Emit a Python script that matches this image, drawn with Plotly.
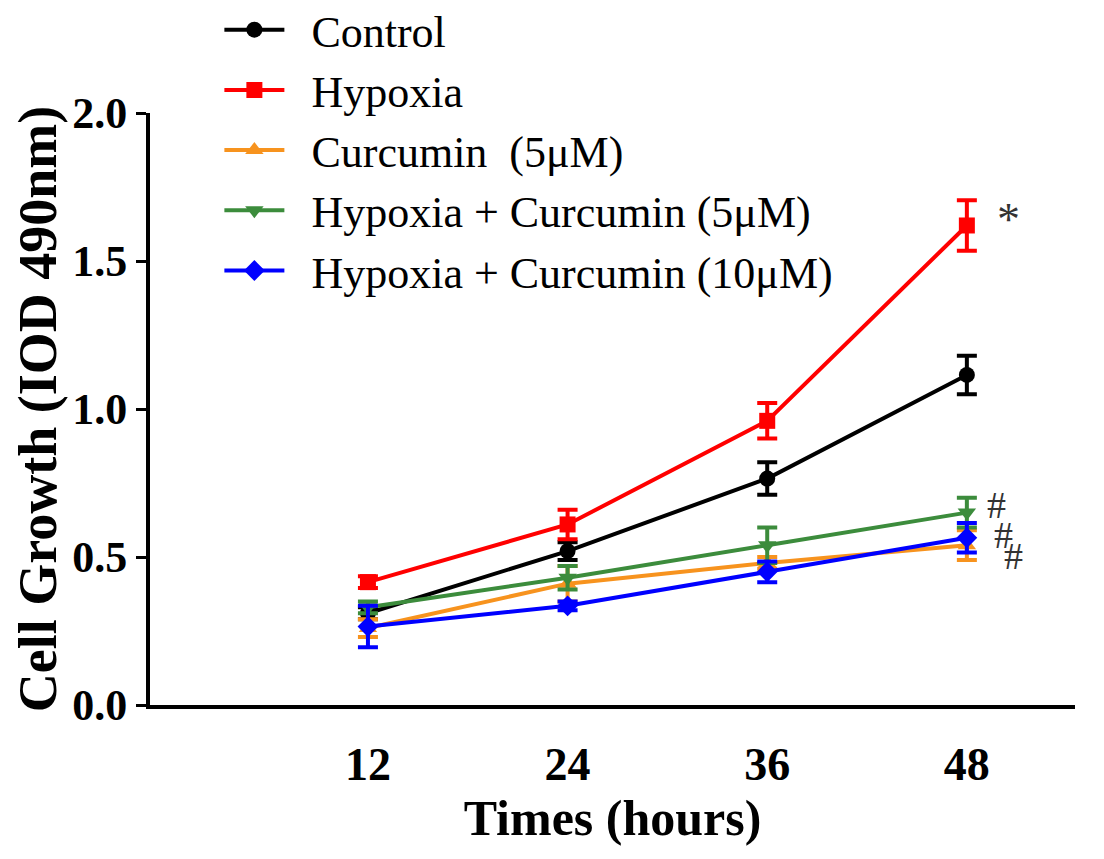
import plotly.graph_objects as go

# time points (hours)
hours = [12, 24, 36, 48]

# mean values
control = [0.31, 0.52, 0.765, 1.115]
hypoxia = [0.415, 0.61, 0.96, 1.62]
curcumin5 = [0.26, 0.41, 0.48, 0.54]
hyp_cur5 = [0.33, 0.43, 0.54, 0.65]
hyp_cur10 = [0.265, 0.335, 0.45, 0.565]

# error bars
control_err = [0.02, 0.03, 0.055, 0.065]
hypoxia_err = [0.02, 0.05, 0.06, 0.085]
curcumin5_err = [0.03, 0.06, 0.02, 0.05]
hyp_cur5_err = [0.02, 0.04, 0.06, 0.05]
hyp_cur10_err = [0.07, 0.015, 0.035, 0.05]

names = ["Control", "Hypoxia", "Curcumin  (5μM)",
         "Hypoxia + Curcumin (5μM)", "Hypoxia + Curcumin (10μM)"]
colors = ["#000000", "#FF0000", "#F7931E", "#3C8C3C", "#0000FF"]
symbols = ["circle", "square", "triangle-up", "triangle-down", "diamond"]

# significance marks
mark_text = ["*", "#", "#", "#"]
mark_x = [50.5, 49.8, 50.2, 50.8]
mark_y = [1.64, 0.675, 0.575, 0.505]

series = [control, hypoxia, curcumin5, hyp_cur5, hyp_cur10]
errors = [control_err, hypoxia_err, curcumin5_err, hyp_cur5_err, hyp_cur10_err]

fig = go.Figure()

for name, vals, err, col, sym in zip(names, series, errors, colors, symbols):
    fig.add_trace(go.Scatter(
        x=hours, y=vals, name="\u2002" + name, mode="lines+markers",
        line=dict(color=col, width=4),
        marker=dict(color=col, symbol=sym, size=16),
        error_y=dict(type="data", array=err, visible=True,
                     color=col, thickness=4, width=10),
    ))

for t, x, y in zip(mark_text, mark_x, mark_y):
    fig.add_annotation(x=x, y=y, text=t, showarrow=False,
                       font=dict(family="Liberation Serif",
                                 size=46 if t == "*" else 38, color="#333333"))

# the page adds 8px of body margin, so the margins are shifted by that
fig.update_layout(
    width=1104, height=859,
    margin=dict(l=142, r=37, t=105, b=162, autoexpand=False),
    plot_bgcolor="white", paper_bgcolor="white",
    font=dict(family="Liberation Serif", color="black"),
    showlegend=True,
    legend=dict(x=0.075, y=1.2, xanchor="left", yanchor="top",
                font=dict(family="Liberation Serif", size=44),
                bgcolor="rgba(0,0,0,0)", itemwidth=60, tracegroupgap=0),
)

fig.update_xaxes(
    range=[-1.1, 54.5], tickvals=hours, ticktext=[str(h) for h in hours],
    showgrid=False, zeroline=False,
    showline=True, linecolor="black", linewidth=4,
    ticks="", ticklabelstandoff=16,
    tickfont=dict(family="Liberation Serif", size=46, color="black", weight="bold"),
    title=dict(text="<b>Times (hours)</b>", standoff=8,
               font=dict(family="Liberation Serif", size=50, color="black")),
)

fig.update_yaxes(
    range=[0, 2.0], tickvals=[0, 0.5, 1.0, 1.5, 2.0],
    ticktext=["0.0", "0.5", "1.0", "1.5", "2.0"],
    showgrid=False, zeroline=False,
    showline=True, linecolor="black", linewidth=4,
    ticks="outside", ticklen=10, tickwidth=3, tickcolor="black",
    tickfont=dict(family="Liberation Serif", size=44, color="black", weight="bold"),
    title=dict(text="<b>Cell Growth (IOD 490nm)</b>", standoff=4,
               font=dict(family="Liberation Serif", size=54, color="black")),
)

fig.write_html("out.html")
